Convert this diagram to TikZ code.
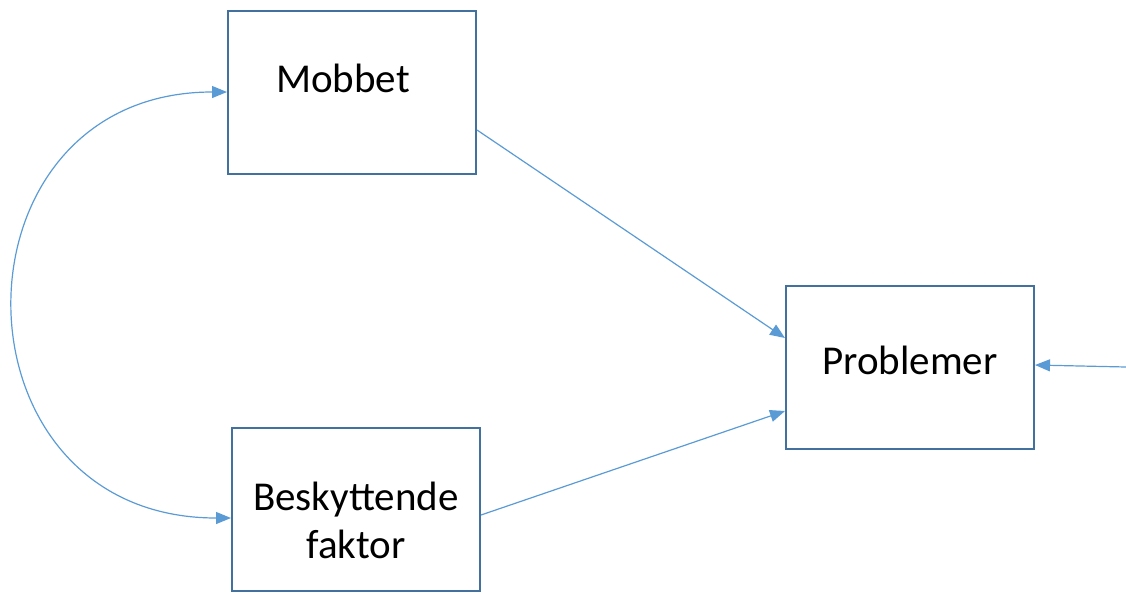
\documentclass[tikz,border=0pt]{standalone}
\usepackage{fontspec}
\setmainfont{Carlito}
\usetikzlibrary{arrows.meta}
\definecolor{boxline}{HTML}{41719C}
\definecolor{arrowline}{HTML}{5B9BD5}
\tikzset{
  varbox/.style={draw=boxline, line width=2pt, minimum width=248pt, minimum height=163pt,
    font=\fontsize{41}{48}\selectfont, align=center},
  path/.style={draw=arrowline, line width=1.2pt, -{Triangle[length=15pt,width=12pt]}},
}
\begin{document}
\begin{tikzpicture}[x=1pt,y=-1pt]
\useasboundingbox (0,0) rectangle (1126,592);
\node[varbox, text height=15pt, text depth=15pt] (mob) at (352,92) {\hspace*{-18pt}Mobbet};
\node[varbox, text height=99pt, text depth=0pt] (besk) at (356,509) {Beskyttende\\faktor};
\node[varbox, text depth=14pt] (prob) at (910,367) {Problemer};
\coordinate (err) at (1126,367);
% paths
\draw[path] ([yshift=-38pt]mob.east) -- ([yshift=29pt]prob.west);
\draw[path] ([yshift=-6pt]besk.east) -- ([yshift=-44pt]prob.west);
\draw[path] (err) -- ([yshift=2pt]prob.east);
% correlation
\draw[path, {Triangle[length=15pt,width=12pt]}-{Triangle[length=15pt,width=12pt]}]
  (mob.west) .. controls +(-284,0) and +(-288,0) .. ([yshift=-9pt]besk.west);
\end{tikzpicture}
\end{document}
